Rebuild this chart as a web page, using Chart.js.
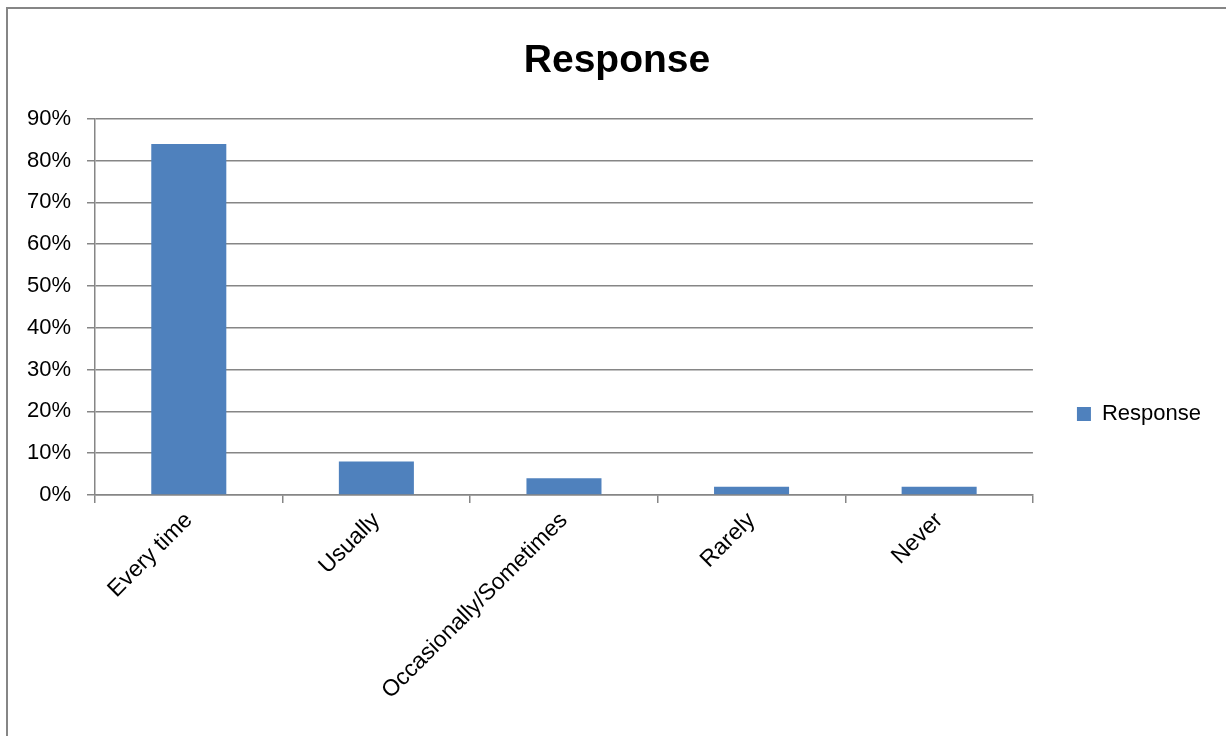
<!DOCTYPE html>
<html>
<head>
<meta charset="utf-8">
<script src="https://cdn.jsdelivr.net/npm/chart.js@4/dist/chart.umd.min.js"></script>
<style>
html,body{margin:0;padding:0;background:#fff;overflow:hidden;}
#wrap{position:absolute;left:0;top:0;width:1226px;height:736px;}
</style>
</head>
<body>
<div id="wrap"><canvas id="c" width="1226" height="736"></canvas></div>
<script>
const categories = ["Every time", "Usually", "Occasionally/Sometimes", "Rarely", "Never"];
const responseValues = [84, 8, 4, 2, 2];
const seriesName = "Response";
const titleText = "Response";
const yMin = 0, yMax = 90, yStep = 10;

const FONT = "'Liberation Sans', Arial, sans-serif";

const frame = {
  id: 'frame',
  beforeDraw(chart) {
    const ctx = chart.ctx;
    ctx.save();
    ctx.strokeStyle = '#868686';
    ctx.lineWidth = 2;
    ctx.beginPath();
    ctx.moveTo(7, 800);
    ctx.lineTo(7, 8);
    ctx.lineTo(1300, 8);
    ctx.stroke();
    ctx.restore();
  }
};

const nudge = {
  id: 'nudge',
  afterLayout(chart) {
    const l = chart.legend;
    if (l) { l.left -= 15; l.right -= 15; l.top += 46; l.bottom += 46; }
    const t = chart.titleBlock;
    if (t) { t.left += 4; t.right += 4; t.top += 2; t.bottom += 2; }
  }
};

new Chart(document.getElementById('c'), {
  type: 'bar',
  data: {
    labels: categories,
    datasets: [{
      label: seriesName,
      data: responseValues,
      backgroundColor: '#4F81BD',
      borderWidth: 0,
      categoryPercentage: 1.0,
      barPercentage: 0.4
    }]
  },
  options: {
    responsive: false,
    animation: false,
    devicePixelRatio: 1,
    layout: { padding: { left: 0, right: 0, top: 0, bottom: 0 } },
    plugins: {
      tooltip: { enabled: false },
      title: {
        display: true,
        text: titleText,
        color: '#000',
        font: { family: FONT, size: 39, weight: 'bold', lineHeight: 1.2 },
        padding: { top: 36, bottom: 36 }
      },
      legend: {
        display: true,
        position: 'right',
        labels: {
          color: '#000',
          font: { family: FONT, size: 22 },
          boxWidth: 14,
          boxHeight: 14,
          padding: 59
        }
      }
    },
    scales: {
      x: {
        offset: true,
        grid: {
          offset: true,
          drawOnChartArea: false,
          drawTicks: true,
          tickLength: 8,
          color: '#868686',
          lineWidth: 1.5
        },
        border: { display: true, color: '#868686', width: 1.5 },
        ticks: {
          color: '#000',
          font: { family: FONT, size: 23 },
          maxRotation: 45,
          minRotation: 45,
          autoSkip: false,
          padding: 4
        },
        afterFit(scale) { scale.height = 241; }
      },
      y: {
        min: yMin,
        max: yMax,
        grid: {
          drawOnChartArea: true,
          drawTicks: true,
          tickLength: 8,
          color: '#868686',
          lineWidth: 1.5
        },
        border: { display: true, color: '#868686', width: 1.5 },
        ticks: {
          stepSize: yStep,
          color: '#000',
          font: { family: FONT, size: 22 },
          padding: 16,
          callback: v => v + '%'
        },
        afterFit(scale) { scale.width = 95; }
      }
    }
  },
  plugins: [frame, nudge]
});
</script>
</body>
</html>
